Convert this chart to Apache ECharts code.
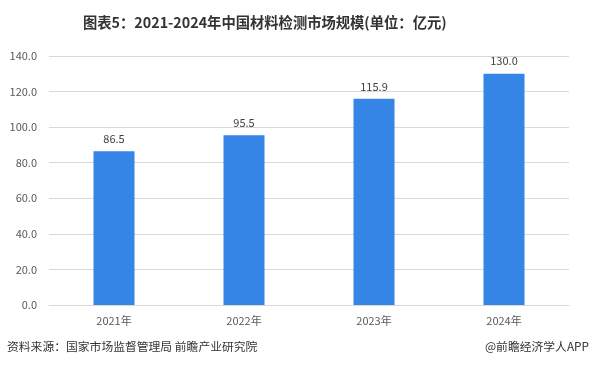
<!DOCTYPE html>
<html><head><meta charset="utf-8">
<script src="https://cdn.jsdelivr.net/npm/echarts@6/dist/echarts.min.js"></script>
<style>html,body{margin:0;padding:0;background:#fff}#c{width:593px;height:376px}</style>
</head><body><div id="c"></div>
<script>
const categories = ['2021年','2022年','2023年','2024年'];
const values = [86.5, 95.5, 115.9, 130.0];
const titleText = '图表5：2021-2024年中国材料检测市场规模(单位：亿元)';
const sourceText = '资料来源：国家市场监督管理局 前瞻产业研究院';
const brandText = '@前瞻经济学人APP';
const chart = echarts.init(document.getElementById('c'));
const font = '"Noto Sans CJK SC","Noto Sans",sans-serif';
chart.setOption({
  animation:false,
  title:{text:titleText,left:78,top:10,textStyle:{fontFamily:font,fontSize:14.3,fontWeight:'bold',color:'#333'}},
  graphic:[
    {type:'text',left:7,top:341,style:{text:sourceText,font:'11.8px '+font,fill:'#333'}},
    {type:'text',right:4,top:341,style:{text:brandText,font:'11.8px '+font,fill:'#333'}}
  ],
  grid:{left:49,right:24,top:56,bottom:71},
  xAxis:{type:'category',data:categories,axisTick:{show:false},
    axisLine:{lineStyle:{color:'#d9d9d9'}},
    axisLabel:{color:'#595959',fontSize:11,fontFamily:font,margin:10}},
  yAxis:{type:'value',min:0,max:140,interval:20,
    axisLabel:{color:'#595959',fontSize:11,fontFamily:font,formatter:v=>v.toFixed(1),margin:12},
    splitLine:{lineStyle:{color:'#d9d9d9'}},axisLine:{show:false},axisTick:{show:false}},
  series:[{type:'bar',data:values,barWidth:41,itemStyle:{color:'#3585E6'},
    label:{show:true,position:'top',distance:7,color:'#404040',fontSize:11,fontFamily:font,formatter:p=>p.value.toFixed(1)}}]
});
</script></body></html>
